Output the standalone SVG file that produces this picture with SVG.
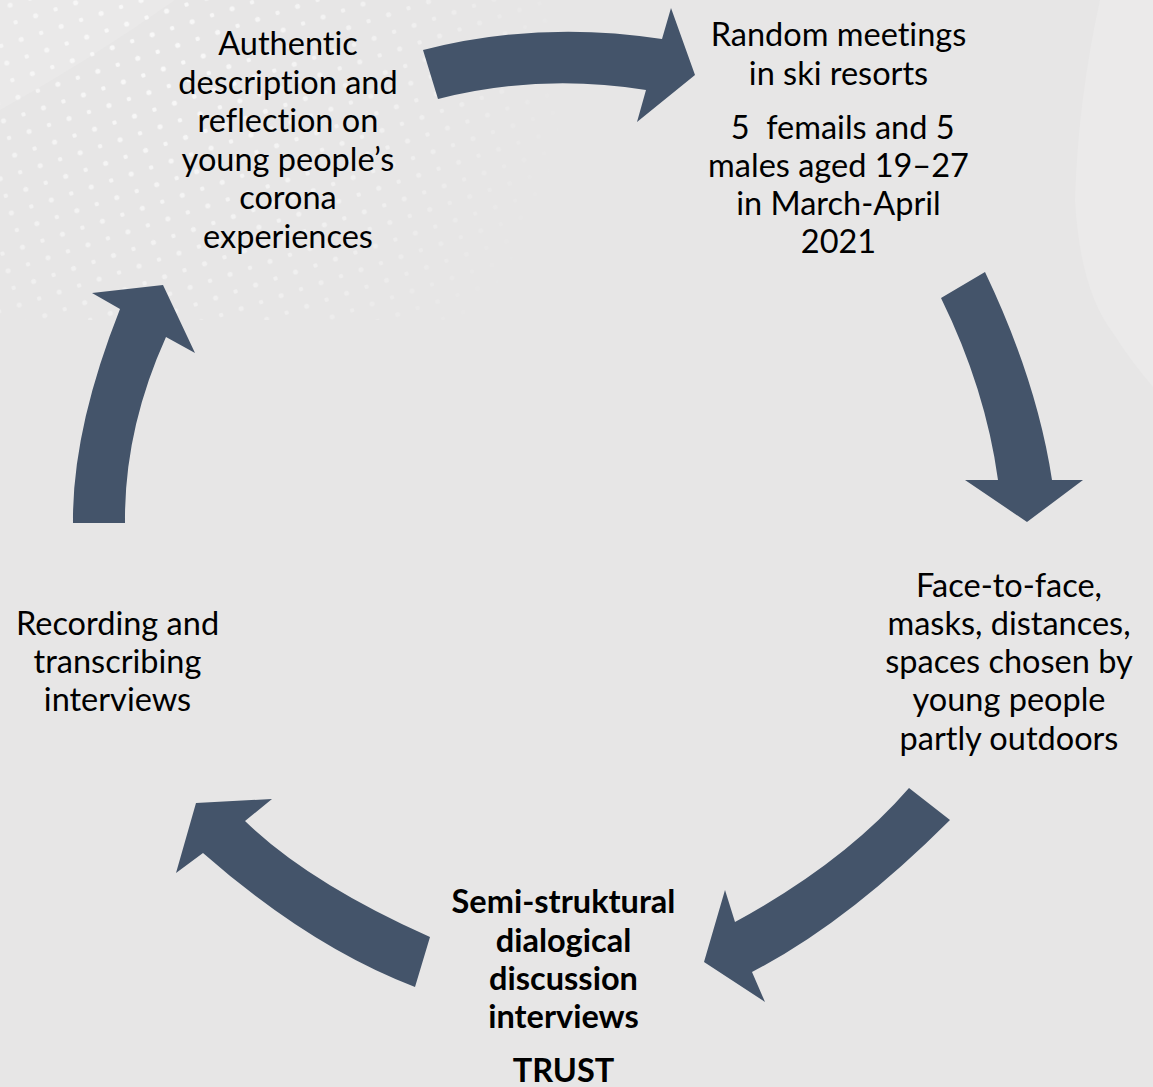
<svg xmlns="http://www.w3.org/2000/svg" width="1153" height="1087" viewBox="0 0 1153 1087">
  <style>
    .t { font-family: Lato, "Liberation Sans", sans-serif; font-size: 32.5px; fill: #000000; text-anchor: middle; font-variant-ligatures: none; }
    .b { font-weight: bold; }
    .arrow { fill: #44546A; }
  </style>
  <defs>
    <pattern id="dots" x="0" y="0" width="42" height="36" patternUnits="userSpaceOnUse" patternTransform="rotate(-18)">
      <circle cx="8" cy="8" r="2.6" fill="#ffffff"/>
      <circle cx="29" cy="26" r="2.6" fill="#ffffff"/>
      <circle cx="29" cy="8" r="2.3" fill="#ffffff"/>
      <circle cx="8" cy="26" r="2.3" fill="#ffffff"/>
    </pattern>
    <radialGradient id="fade" cx="160" cy="60" r="420" gradientUnits="userSpaceOnUse">
      <stop offset="0" stop-color="#ffffff" stop-opacity="0.75"/>
      <stop offset="0.6" stop-color="#ffffff" stop-opacity="0.4"/>
      <stop offset="1" stop-color="#ffffff" stop-opacity="0"/>
    </radialGradient>
    <mask id="dotmask">
      <rect x="0" y="0" width="1153" height="1087" fill="url(#fade)"/>
    </mask>
  </defs>

  <!-- background -->
  <rect x="0" y="0" width="1153" height="1087" fill="#E7E6E6"/>
  <path d="M0,0 L175,0 Q90,60 0,110 Z" fill="#EAE9E9"/>
  <path d="M1100,0 Q1078,100 1075,200 Q1080,290 1113,333 Q1130,360 1153,387 L1153,0 Z" fill="#EBEAEA"/>
  <rect x="0" y="0" width="620" height="320" fill="url(#dots)" mask="url(#dotmask)"/>

  <!-- connectors -->
  <g id="connectors">
    <path class="arrow" d="M423,50 Q540,20 662,39 L671,8 L695,75 L637,122 L646,90 Q540,73 438,99 Z"/>
    <path class="arrow" d="M985,272 Q1037,381 1052,480 L1083,480 L1027,522 L965,480 L998,480 Q985.6,389 941,298 Z"/>
    <path class="arrow" d="M950,820 Q847,923 752,972 L765,1002 L704,962 L725,890 L735,922 Q845,862 909,788 Z"/>
    <path class="arrow" d="M430,937 Q309,883 245,821 L272,799 L196,803 L176,873 L203,853 Q310,947 415,987 Z"/>
    <path class="arrow" d="M73,523 Q72,430 120,309 L92,293 L163,285 L195,353 L166,337 Q124,430 125,523 Z"/>
  </g>

  <!-- nodes -->
  <g id="node-authentic">
    <text class="t" x="288" y="55">Authentic</text>
    <text class="t" x="288" y="93.5">description and</text>
    <text class="t" x="288" y="132">reflection on</text>
    <text class="t" x="288" y="170.5">young people’s</text>
    <text class="t" x="288" y="209">corona</text>
    <text class="t" x="288" y="247.5">experiences</text>
  </g>
  <g id="node-random">
    <text class="t" x="838.5" y="46">Random meetings</text>
    <text class="t" x="838.5" y="84.5">in ski resorts</text>
    <text class="t" x="838.5" y="139.3" xml:space="preserve"> 5  femails and 5</text>
    <text class="t" x="838.5" y="177">males aged 19–27</text>
    <text class="t" x="838.5" y="215">in March-April</text>
    <text class="t" x="838.5" y="253">2021</text>
  </g>
  <g id="node-face">
    <text class="t" x="1009" y="597">Face-to-face,</text>
    <text class="t" x="1009" y="635">masks, distances,</text>
    <text class="t" x="1009" y="673">spaces chosen by</text>
    <text class="t" x="1009" y="711">young people</text>
    <text class="t" x="1009" y="750">partly outdoors</text>
  </g>
  <g id="node-semi">
    <text class="t b" x="563.5" y="913">Semi-struktural</text>
    <text class="t b" x="563.5" y="952">dialogical</text>
    <text class="t b" x="563.5" y="990">discussion</text>
    <text class="t b" x="563.5" y="1028">interviews</text>
    <text class="t b" x="563.5" y="1082">TRUST</text>
  </g>
  <g id="node-recording">
    <text class="t" x="117.5" y="635">Recording and</text>
    <text class="t" x="117.5" y="673">transcribing</text>
    <text class="t" x="117.5" y="711">interviews</text>
  </g>
</svg>
